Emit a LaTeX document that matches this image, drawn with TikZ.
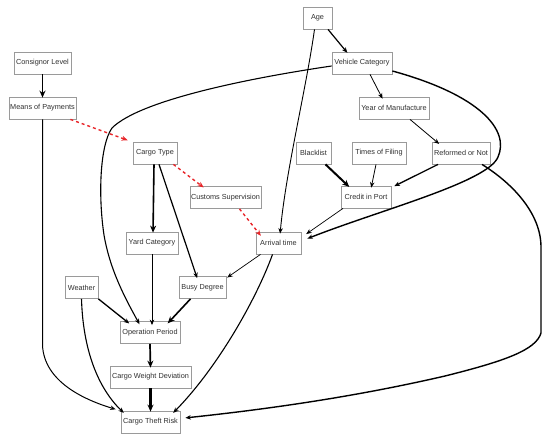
\documentclass[tikz,border=0pt]{standalone}
\usepackage{fontspec}
\setmainfont{Liberation Sans}
\usetikzlibrary{arrows.meta}
\definecolor{boxgray}{HTML}{9A9A9A}
\definecolor{txtgray}{HTML}{303030}
\definecolor{dashred}{HTML}{E8262A}
\begin{document}
\begin{tikzpicture}[x=1pt,y=-1pt,
  box/.style={draw=boxgray, line width=0.8pt, minimum height=22pt, inner sep=0pt, fill=white,
    font=\fontsize{7.3}{8}\selectfont, text=txtgray},
  ln/.style={line width=#1, -{Stealth[length=5.5pt,width=4.5pt]}, shorten >=1pt},
  lnb/.style={line width=#1, -{Stealth[length=7pt,width=6pt]}, shorten >=1pt},
  rd/.style={draw=dashred, line width=1.4pt, dash pattern=on 3pt off 3pt,
    -{Stealth[length=6pt,width=5pt]}, shorten >=1pt}]
\useasboundingbox (0,0) rectangle (550,439);

% nodes
\node[box, minimum width=29pt] (age) at (317.5,18) {Age};
\node[box, minimum width=60pt] (vc) at (362,63) {Vehicle Category};
\node[box, minimum width=70pt] (yom) at (394,108) {Year of Manufacture};
\node[box, minimum width=35pt] (bl) at (313.5,153) {Blacklist};
\node[box, minimum width=54pt] (tof) at (379,153) {Times of Filing};
\node[box, minimum width=58pt] (ron) at (461,153) {Reformed or Not};
\node[box, minimum width=50pt] (cip) at (366,197) {Credit in Port};
\node[box, minimum width=57pt] (cl) at (42.5,63) {Consignor Level};
\node[box, minimum width=67pt] (mop) at (42.5,108) {Means of Payments};
\node[box, minimum width=44pt] (ct) at (155,153) {Cargo Type};
\node[box, minimum width=71pt] (cs) at (225.5,197.5) {Customs Supervision};
\node[box, minimum width=52pt] (yc) at (152,243) {Yard Category};
\node[box, minimum width=45pt] (at) at (278.5,243) {Arrival time};
\node[box, minimum width=33pt] (we) at (81.5,287.5) {Weather};
\node[box, minimum width=47pt] (bd) at (202.5,287.5) {Busy Degree};
\node[box, minimum width=60pt] (op) at (150,332.5) {Operation Period};
\node[box, minimum width=81pt] (cwd) at (150.5,377) {Cargo Weight Deviation};
\node[box, minimum width=59pt] (ctr) at (150.5,422) {Cargo Theft Risk};

% straight connectors
\draw[ln=1.2pt] ([xshift=10.5pt]age.south) -- ([xshift=-14pt,yshift=-2pt]vc.north);
\draw[ln=0.9pt] ([xshift=-3pt]age.south) .. controls (306,90) and (286,170) .. ([xshift=1.5pt,yshift=-3pt]at.north);
\draw[ln=0.8pt] ([xshift=8pt]vc.south) -- ([xshift=-11pt,yshift=-3pt]yom.north);
\draw[ln=0.8pt] ([xshift=16pt]yom.south) -- ([xshift=-21pt,yshift=-3pt]ron.north);
\draw[lnb=2pt] ([xshift=12pt]bl.south) -- ([xshift=-16pt,yshift=-2pt]cip.north);
\draw[ln=0.8pt] ([xshift=-3pt]tof.south) -- ([xshift=5pt,yshift=-3pt]cip.north);
\draw[ln=1.3pt] ([xshift=-23pt]ron.south) -- ([xshift=2pt,yshift=-1pt]cip.north east);
\draw[ln=0.7pt] ([xshift=-23pt]cip.south) -- ([xshift=4pt,yshift=-3pt]at.north east);
\draw[lnb=1.5pt] (cl.south) -- ([yshift=-2pt]mop.north);
\draw[rd] ([xshift=-6pt]mop.south east) -- ([xshift=-4pt,yshift=1pt]ct.north west);
\draw[rd] ([xshift=-4pt]ct.south east) -- ([xshift=-21pt,yshift=-2pt]cs.north);
\draw[rd] ([xshift=14pt]cs.south) -- ([xshift=-17pt,yshift=-5pt]at.north);
\draw[lnb=1.6pt] ([xshift=-1pt]ct.south) -- ([xshift=1pt,yshift=-2pt]yc.north);
\draw[ln=1.2pt] ([xshift=4pt]ct.south) -- ([xshift=-5pt,yshift=-3pt]bd.north);
\draw[ln=0.8pt] (yc.south) -- ([xshift=2pt,yshift=-5pt]op.north);
\draw[ln=0.7pt] ([xshift=-18pt]at.south) -- ([yshift=-2pt]bd.north east);
\draw[ln=1.1pt] ([xshift=-6pt]at.south) .. controls (258,295) and (220,365) .. ([xshift=22pt,yshift=-3pt]ctr.north);
\draw[ln=1.3pt] (we.south east) -- ([xshift=-20pt,yshift=-3pt]op.north);
\draw[ln=1.1pt] (we.south) .. controls (83,350) and (98,388) .. ([xshift=-26pt,yshift=-3pt]ctr.north);
\draw[lnb=1.6pt] ([xshift=-12pt]bd.south) -- ([xshift=17pt,yshift=-3pt]op.north);
\draw[lnb=1.7pt] (op.south) -- ([yshift=-3pt]cwd.north);
\draw[lnb=2.3pt] (cwd.south) -- ([yshift=-2pt]ctr.north);

% long curves
\draw[ln=1pt] (mop.south) -- (42.5,345) .. controls (44,382) and (85,400) .. ([xshift=-4pt,yshift=1pt]ctr.north west);
\draw[ln=1.1pt] ([yshift=-3pt]vc.west) .. controls (250,78) and (140,100) .. (112,128)
  .. controls (100,145) and (98,195) .. (104,235)
  .. controls (110,270) and (125,298) .. ([xshift=-10pt,yshift=-4pt]op.north);
\draw[ln=1.4pt] ([yshift=-8pt]vc.east) .. controls (480,95) and (510,130) .. (498,157)
  .. controls (488,182) and (380,210) .. ([xshift=5pt,yshift=4pt]at.east);
\draw[ln=1.4pt] ([xshift=21pt]ron.south) .. controls (515,185) and (541,215) .. (541,247)
  -- (541,333) .. controls (536,350) and (505,361) .. (445,376)
  .. controls (350,398) and (260,410) .. ([xshift=4pt,yshift=4pt]ctr.east);
\end{tikzpicture}
\end{document}
